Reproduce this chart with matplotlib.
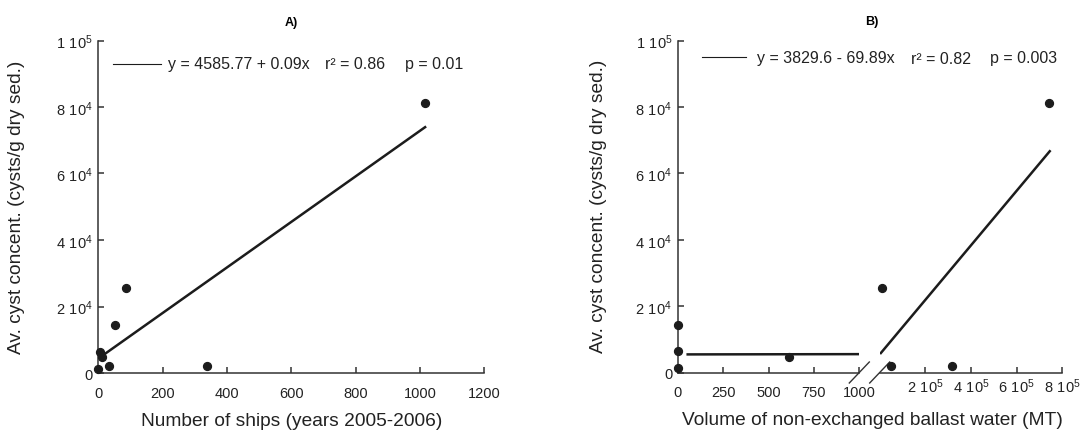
import numpy as np
import matplotlib.pyplot as plt
from matplotlib.lines import Line2D

plt.rcParams['font.family'] = 'Liberation Sans'
plt.rcParams['mathtext.fontset'] = 'custom'
plt.rcParams['mathtext.rm'] = 'Liberation Sans'

# cyst concentration per station (cysts/g dry sed.)
cysts = [1300, 6400, 4700, 2000, 14400, 25500, 2000, 81200]
# A) number of ships 2005-2006
ships = [0, 6, 12.5, 33, 52, 85, 338, 1016]
# B) volume of non-exchanged ballast water (MT)
ballast = [0, 0, 615, 48000, 0, 10000, 315000, 742700]

# regression lines as drawn (intercept, slope)
fit_a = (4344, 68.5)
fit_a_x = [12.5, 1016]
fit_b = (5450, 0.0822)
fit_b_low_x = [55, 1000]
fit_b_high_x = [5000, 745000]

eq_a = ["y = 4585.77 + 0.09x", "r² = 0.86", "p = 0.01"]
eq_b = ["y = 3829.6 - 69.89x", "r² = 0.82", "p = 0.003"]

y_ticks = [0, 20000, 40000, 60000, 80000, 100000]
y_ticklabels = ["0", r"$\mathregular{2\ 10^{4}}$", r"$\mathregular{4\ 10^{4}}$",
                r"$\mathregular{6\ 10^{4}}$", r"$\mathregular{8\ 10^{4}}$",
                r"$\mathregular{1\ 10^{5}}$"]
xa_ticks = [0, 200, 400, 600, 800, 1000, 1200]
xb_low_ticks = [0, 250, 500, 750, 1000]
xb_high_ticks = [200000, 400000, 600000, 800000]
xb_high_labels = [r"$\mathregular{2\ 10^{5}}$", r"$\mathregular{4\ 10^{5}}$",
                  r"$\mathregular{6\ 10^{5}}$", r"$\mathregular{8\ 10^{5}}$"]

W, H = 1081, 431
fig = plt.figure(figsize=(W / 100, H / 100), dpi=100)
ink = '#1c1c1c'
txtc = '#222222'


def box(x0, x1, ytop, ybot):
    return [x0 / W, 1 - ybot / H, (x1 - x0) / W, (ybot - ytop) / H]


def style(ax):
    for s in ['top', 'right']:
        ax.spines[s].set_visible(False)
    for s in ['left', 'bottom']:
        ax.spines[s].set_linewidth(1.1)
        ax.spines[s].set_color('#333333')
    ax.tick_params(direction='in', length=4.5, width=1.1, color='#333333',
                   labelsize=10.5, labelcolor=txtc)
    ax.tick_params(axis='x', pad=9)
    ax.tick_params(axis='y', pad=4)
    ax.set_ylim(0, 100000)
    ax.set_yticks(y_ticks)
    ax.set_yticklabels(y_ticklabels)


axA = fig.add_axes(box(98.3, 484.3, 41.5, 374))
axB1 = fig.add_axes(box(677.7, 859.3, 41.7, 373.5))
axB2 = fig.add_axes(box(879.7, 1062.3, 41.7, 373.5))

# panel A
style(axA)
axA.set_xlim(0, 1200)
axA.set_xticks(xa_ticks)
axA.scatter(ships, cysts, s=32, color=ink, zorder=3, clip_on=False)
fx = np.array(fit_a_x)
axA.plot(fx, fit_a[0] + fit_a[1] * fx, color=ink, lw=1.8)
axA.set_ylabel("Av. cyst concent. (cysts/g dry sed.)", fontsize=13.8, color=txtc)
axA.yaxis.set_label_coords(-0.19, 0.5)
axA.set_title("A)", fontsize=9, fontweight='bold', pad=11)

# panel B, broken x axis
ballast = np.array(ballast)
cysts_arr = np.array(cysts)
low = ballast <= 1000

style(axB1)
axB1.set_xlim(0, 1000)
axB1.set_xticks(xb_low_ticks)
axB1.scatter(ballast[low], cysts_arr[low], s=32, color=ink, zorder=3, clip_on=False)
fx = np.array(fit_b_low_x)
axB1.plot(fx, fit_b[0] + fit_b[1] * fx, color=ink, lw=1.8)
axB1.set_ylabel("Av. cyst concent. (cysts/g dry sed.)", fontsize=13.8, color=txtc)
axB1.yaxis.set_label_coords(-0.392, 0.503)

style(axB2)
axB2.spines['left'].set_visible(False)
axB2.tick_params(axis='y', left=False, labelleft=False)
axB2.tick_params(axis='x', pad=3)
axB2.set_xlim(0, 800000)
axB2.set_xticks(xb_high_ticks)
axB2.set_xticklabels(xb_high_labels)
axB2.scatter(ballast[~low], cysts_arr[~low], s=32, color=ink, zorder=3, clip_on=False)
fx = np.array(fit_b_high_x)
axB2.plot(fx, fit_b[0] + fit_b[1] * fx, color=ink, lw=1.8)

# break marks
for ax, cx, wpx in [(axB1, 1.0, 181.6), (axB2, 0.0, 182.6)]:
    dx = 10 / wpx
    dy = 10.5 / 331.8
    ax.plot([cx - dx, cx + dx], [-dy, dy], transform=ax.transAxes,
            color='#333333', lw=1.0, clip_on=False)

fig.text(872.3 / W, 1 - 21.7 / H, "B)", fontsize=9, fontweight='bold',
         ha='center', va='center')

# regression legends
fig.add_artist(Line2D([112.7 / W, 160.7 / W], [1 - 65 / H, 1 - 65 / H],
                      color=ink, lw=0.8))
for txt, xp in zip(eq_a, [168.3, 325, 405]):
    fig.text(xp / W, 1 - 65 / H, txt, fontsize=11.5, ha='left', va='center',
             color=txtc)
fig.add_artist(Line2D([701.7 / W, 746 / W], [1 - 58.3 / H, 1 - 58.3 / H],
                      color=ink, lw=0.8))
for txt, xp in zip(eq_b, [757.3, 911, 990]):
    fig.text(xp / W, 1 - 59 / H, txt, fontsize=11.5, ha='left', va='center',
             color=txtc)

# x labels
fig.text(292 / W, 1 - 421.5 / H, "Number of ships (years 2005-2006)",
         fontsize=13.8, ha='center', va='center', color=txtc)
fig.text(872 / W, 1 - 421 / H, "Volume of non-exchanged ballast water (MT)",
         fontsize=13.8, ha='center', va='center', color=txtc)

fig.savefig("out.png", dpi=100)
